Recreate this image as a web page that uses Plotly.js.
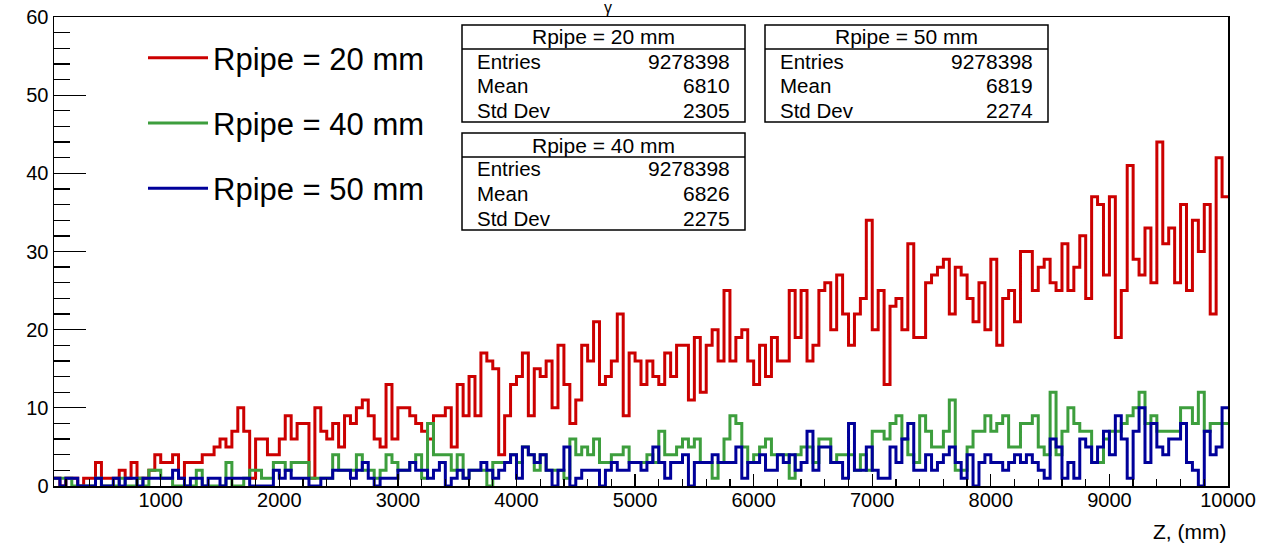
<!DOCTYPE html>
<html><head><meta charset="utf-8">
<script src="https://cdn.plot.ly/plotly-3.0.1.min.js"></script>
<style>body{margin:0;background:#fff;}</style>
</head><body>
<div id="chart" style="width:1267px;height:544px;"></div>
<script>
// Histogram binning (Z, mm)
const BIN_START = 100;
const BIN_WIDTH = 50;

// Counts per bin
const red20 = [
 1,0,1,1,0,1,1,3,1,1,
 1,2,1,3,1,1,2,4,3,3,
 4,1,3,3,3,4,4,5,6,5,
 7,10,7,1,6,6,4,4,6,9,
 6,8,8,1,10,7,6,8,5,9,
 8,10,11,9,6,5,13,6,10,10,
 9,8,7,6,9,9,10,5,13,9,
 14,9,17,16,15,4,9,13,14,17,
 9,15,14,16,10,18,13,8,11,18,
 16,21,13,14,16,22,9,17,16,13,
 16,14,13,17,14,18,18,11,19,12,
 18,20,16,25,16,19,20,16,13,18,
 14,19,16,16,25,19,25,16,18,25,
 26,20,27,22,18,22,24,34,20,25,
 13,23,24,20,31,19,19,26,27,28,
 29,22,28,27,24,21,26,20,29,18,
 24,25,21,30,30,25,28,29,26,25,
 31,25,28,32,24,37,36,27,37,19,
 25,41,29,27,33,26,44,31,33,26,
 36,25,34,30,36,22,42,37
];
const green40 = [
 1,1,1,0,0,0,0,1,0,0,
 0,1,0,0,1,0,2,2,1,1,
 0,0,0,0,2,0,0,0,0,3,
 0,0,1,2,2,1,1,3,3,2,
 3,3,3,1,1,1,1,4,2,2,
 2,4,2,2,1,2,4,3,2,2,
 3,4,1,8,4,4,4,2,4,1,
 2,2,2,0,3,3,3,4,3,5,
 4,2,4,2,2,2,1,6,4,5,
 4,6,3,3,4,4,5,3,3,3,
 4,3,7,4,4,5,6,5,6,3,
 3,1,3,6,9,8,5,3,4,5,
 6,4,4,4,1,4,5,5,3,6,
 6,3,4,4,4,2,4,2,7,7,
 6,8,9,6,4,3,9,7,5,5,
 7,11,2,2,5,7,7,9,7,8,
 9,5,5,8,8,9,5,4,12,4,
 7,10,8,7,7,3,3,6,7,7,
 8,9,10,12,8,9,7,7,7,7,
 10,10,8,12,7,8,8,8
];
const blue50 = [
 1,0,1,1,0,0,0,1,0,0,
 1,0,1,1,0,1,1,1,1,1,
 2,1,0,1,1,0,1,1,0,1,
 1,1,1,0,0,0,0,2,1,2,
 1,1,1,0,0,1,1,2,2,2,
 1,2,3,1,0,1,1,1,2,2,
 3,2,2,1,2,3,0,1,2,1,
 2,2,3,2,1,2,3,4,1,5,
 4,3,4,2,0,2,5,0,1,2,
 2,2,0,2,3,2,2,3,3,2,
 3,5,3,1,3,3,4,0,3,3,
 3,4,3,3,3,5,1,3,3,4,
 2,2,4,3,4,2,3,7,2,5,
 5,3,3,1,8,2,2,5,2,1,
 1,5,3,6,8,2,2,4,2,3,
 4,5,3,1,4,0,3,4,3,3,
 2,3,4,3,4,3,2,1,6,5,
 1,3,1,6,5,3,5,7,4,9,
 6,1,7,10,3,8,5,4,6,6,
 8,3,2,0,7,4,5,10
];

const seriesNames = ['Rpipe = 20 mm', 'Rpipe = 40 mm', 'Rpipe = 50 mm'];
const seriesColors = ['#cc0000', '#3d9e3d', '#00009a'];
const statTitles = ['Rpipe = 20 mm', 'Rpipe = 40 mm', 'Rpipe = 50 mm'];
const statEntries = ['9278398', '9278398', '9278398'];
const statMean = ['6810', '6826', '6819'];
const statStd = ['2305', '2275', '2274'];
const statLabels = ['Entries', 'Mean', 'Std Dev'];

function stepXY(vals) {
  const x = [], y = [];
  vals.forEach((v, i) => { x.push(BIN_START + i * BIN_WIDTH); y.push(v); });
  x.push(BIN_START + vals.length * BIN_WIDTH);
  y.push(vals[vals.length - 1]);
  return {x, y};
}

const allSeries = [red20, green40, blue50];
const traces = allSeries.map((vals, k) => {
  const s = stepXY(vals);
  return {
    type: 'scatter', mode: 'lines', x: s.x, y: s.y,
    line: {shape: 'hv', color: seriesColors[k], width: 3},
    name: seriesNames[k], legendgroup: 'g' + k,
    hoverinfo: 'skip'
  };
});

// plot frame in pixels (for placing decorations: stat boxes)
const L = 54, R = 1228, T = 17, B = 486;
const px = p => (p - L) / (R - L);
const py = p => (B - p) / (B - T);

const shapes = [];
const annotations = [];
const FONT = 'Liberation Sans, Arial, Helvetica, sans-serif';

// stat boxes: [left, top] positions in pixels, order of series 20, 40, 50
const boxPos = [[462, 25], [462, 133], [765, 25]];
const boxW = 283, boxH = 97, headH = 24;
boxPos.forEach((p, k) => {
  const x0 = p[0], y0 = p[1], x1 = x0 + boxW, y1 = y0 + boxH;
  shapes.push({type: 'rect', xref: 'paper', yref: 'paper', x0: px(x0), x1: px(x1), y0: py(y1), y1: py(y0),
    line: {color: '#000', width: 1.5}, fillcolor: '#fff', layer: 'above'});
  shapes.push({type: 'line', xref: 'paper', yref: 'paper', x0: px(x0), x1: px(x1), y0: py(y0 + headH), y1: py(y0 + headH),
    line: {color: '#000', width: 1.3}, layer: 'above'});
  annotations.push({xref: 'paper', yref: 'paper', x: px((x0 + x1) / 2), y: py(y0 + headH / 2),
    text: statTitles[k], showarrow: false, xanchor: 'center', yanchor: 'middle',
    font: {family: FONT, size: 21, color: '#000'}});
  const vals = [statEntries[k], statMean[k], statStd[k]];
  statLabels.forEach((lab, j) => {
    const yy = y0 + headH + 12 + j * 24.5;
    annotations.push({xref: 'paper', yref: 'paper', x: px(x0 + 13), y: py(yy), text: lab, showarrow: false,
      xanchor: 'left', yanchor: 'middle', font: {family: FONT, size: 20.5, color: '#000'}});
    annotations.push({xref: 'paper', yref: 'paper', x: px(x1 - 13), y: py(yy), text: vals[j], showarrow: false,
      xanchor: 'right', yanchor: 'middle', font: {family: FONT, size: 21, color: '#000'}});
  });
});

// axis title, right-aligned as in ROOT
annotations.push({xref: 'paper', yref: 'paper', x: 1, y: py(531), text: 'Z, (mm)', showarrow: false,
  xanchor: 'right', yanchor: 'middle', font: {family: FONT, size: 21, color: '#000'}});
// histogram title at the very top
annotations.push({xref: 'paper', yref: 'paper', x: px(608), y: py(-3), text: 'γ', showarrow: false,
  xanchor: 'center', yanchor: 'top', font: {family: FONT, size: 16, color: '#000'}});

const layout = {
  width: 1267, height: 544,
  margin: {l: L, r: 1267 - R, t: T, b: 544 - B, pad: 0},
  paper_bgcolor: '#fff', plot_bgcolor: '#fff',
  showlegend: true,
  legend: {x: px(143), y: py(31), xanchor: 'left', yanchor: 'top', bgcolor: 'rgba(0,0,0,0)',
    font: {family: FONT, size: 31, color: '#000'}, tracegroupgap: 22, itemwidth: 60, traceorder: 'grouped'},
  xaxis: {range: [BIN_START, 10000], showline: true, mirror: true, linecolor: '#000', linewidth: 1.5,
    ticks: 'inside', ticklen: 12, tickwidth: 1.3, tickcolor: '#000', dtick: 1000, tick0: 0,
    tickformat: 'd', ticklabelstandoff: -5,
    tickfont: {family: FONT, size: 20, color: '#000'}, showgrid: false, zeroline: false,
    minor: {dtick: 200, tick0: 0, ticks: 'inside', ticklen: 7, tickwidth: 1.3, tickcolor: '#000', showgrid: false}},
  yaxis: {range: [0, 60], showline: true, mirror: true, linecolor: '#000', linewidth: 1.5,
    ticks: 'inside', ticklen: 32, tickwidth: 1.3, tickcolor: '#000', dtick: 10, tick0: 0,
    tickfont: {family: FONT, size: 20, color: '#000'}, showgrid: false, zeroline: false,
    minor: {dtick: 2, tick0: 0, ticks: 'inside', ticklen: 16, tickwidth: 1.3, tickcolor: '#000', showgrid: false}},
  shapes: shapes,
  annotations: annotations
};

Plotly.newPlot('chart', traces, layout, {displayModeBar: false, staticPlot: true});
</script>
</body></html>
